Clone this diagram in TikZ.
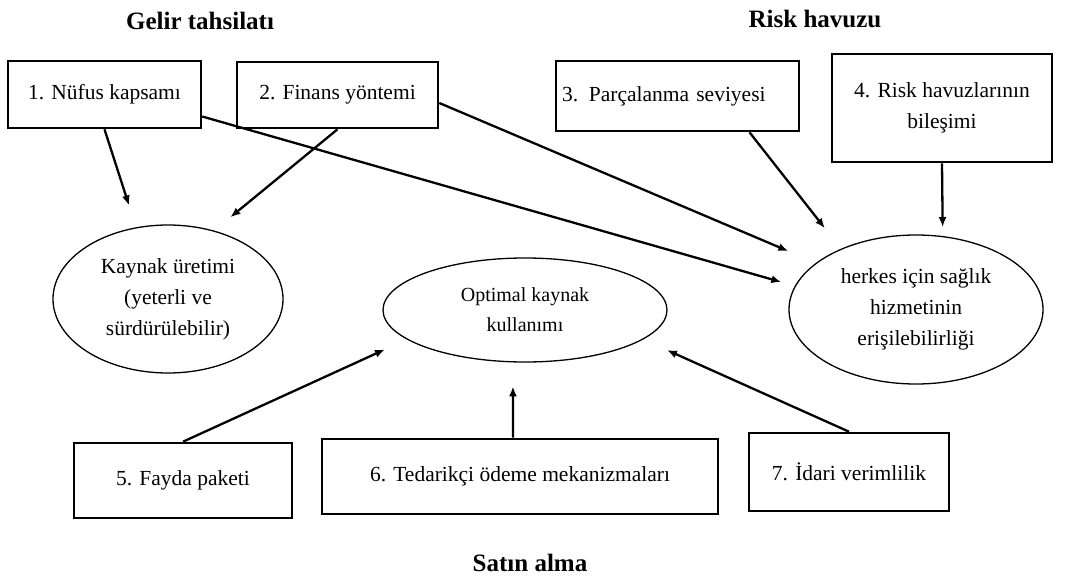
\documentclass[tikz,border=0pt]{standalone}
\usepackage{fontspec}
\setmainfont{Liberation Serif}
\usetikzlibrary{arrows.meta,shapes.geometric}

\begin{document}
\begin{tikzpicture}[x=1pt, y=-1pt,
    kutu/.style={draw, line width=2.6pt, inner sep=0pt, align=center, font=\fontsize{21.5}{31}\selectfont},
    elips/.style={draw, ellipse, line width=1.3pt, inner sep=0pt, align=center, font=\fontsize{21.5}{31}\selectfont},
    baslik/.style={font=\fontsize{25}{30}\selectfont\bfseries},
    ok/.style={-{Latex[length=10pt,width=8pt]}, line width=2.3pt}]
    \useasboundingbox (0,0) rectangle (1073,586);
    \node[baslik] (gelir) at (200,21) {Gelir tahsilatı};
    \node[baslik] (risk) at (815,19) {Risk havuzu};
    \node[baslik] (satin) at (530,563) {Satın alma};
    \node[kutu, minimum width=193pt, minimum height=67pt] (b1) at (104.5,94.5) {1. Nüfus kapsamı};
    \node[kutu, minimum width=201pt, minimum height=66pt] (b2) at (337.5,95) {2. Finans yöntemi};
    \node[kutu, minimum width=243pt, minimum height=70pt, text width=231pt, align=left] (b3) at (677.5,96) {3. Parçalanma seviyesi};
    \node[kutu, minimum width=220pt, minimum height=108pt] (b4) at (942,108) {4. Risk havuzlarının\\bileşimi};
    \node[kutu, minimum width=218pt, minimum height=75pt] (b5) at (183,480.5) {5. Fayda paketi};
    \node[kutu, minimum width=396pt, minimum height=75pt] (b6) at (520,476.5) {6. Tedarikçi ödeme mekanizmaları};
    \node[kutu, minimum width=200pt, minimum height=78pt] (b7) at (849,472) {7. İdari verimlilik};
    \node[elips, minimum width=230pt, minimum height=148pt] (kaynak) at (168,299) {Kaynak üretimi\\(yeterli ve\\sürdürülebilir)};
    \node[elips, minimum width=284pt, minimum height=104pt, font=\fontsize{20}{30}\selectfont] (optimal) at (525,310) {Optimal kaynak\\kullanımı};
    \node[elips, minimum width=254pt, minimum height=149pt] (erisim) at (916,309.5) {herkes için sağlık\\hizmetinin\\erişilebilirliği};
    \draw[ok, shorten >=23pt] (b1.south) -- (kaynak.114);
    \draw[ok, shorten >=21pt] (b2.south) -- (kaynak.56);
    \draw[ok, shorten >=14pt] ([yshift=-22pt]b1.east) -- (erisim.169);
    \draw[ok, shorten >=30pt] ([yshift=-8pt]b2.east) -- (erisim.155);
    \draw[ok, shorten >=26pt] ([xshift=72pt]b3.south) -- (erisim.141);
    \draw[ok, shorten >=9pt] (b4.south) -- (erisim.70);
    \draw[ok, shorten >=24pt] (b5.north) -- (optimal.194);
    \draw[ok, shorten >=24pt] ([xshift=-7pt]b6.north) -- (optimal.257);
    \draw[ok, shorten >=26pt] (b7.north) -- (optimal.346);
\end{tikzpicture}
\end{document}
